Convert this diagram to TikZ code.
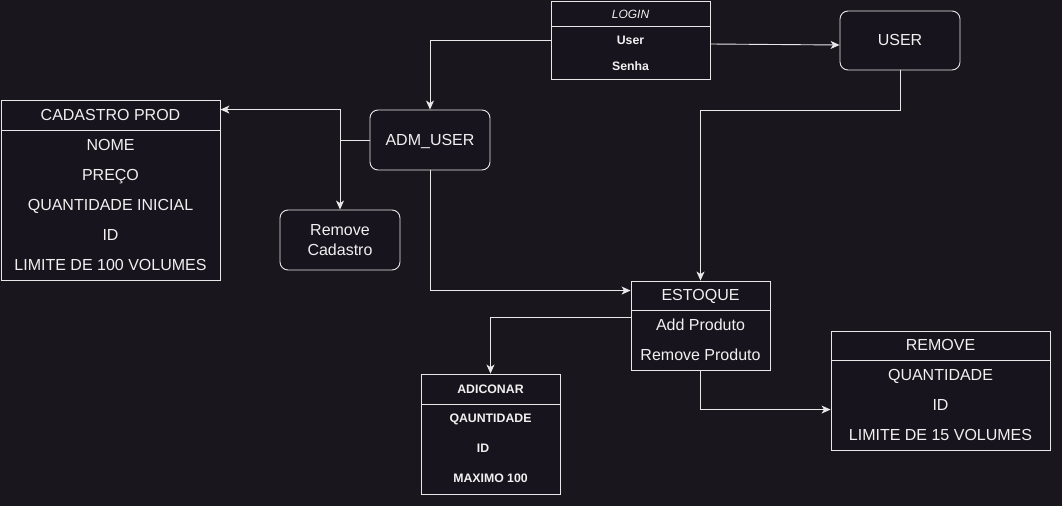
\documentclass[tikz,border=0pt]{standalone}
\usepackage{fontspec}
\setmainfont{Liberation Sans}
\usetikzlibrary{arrows.meta,calc}
\definecolor{bg}{RGB}{25,22,30}
\definecolor{boxfill}{RGB}{24,20,29}
\definecolor{fg}{RGB}{240,240,240}
\definecolor{ln}{RGB}{232,232,232}
\begin{document}
\begin{tikzpicture}[x=1pt,y=-1pt,
  box/.style={draw=ln, fill=boxfill, line width=0.9pt, inner sep=0pt},
  rbox/.style={box, rounded corners=8pt},
  txt/.style={text=fg, inner sep=0pt, yshift=-2pt, text height=1.5ex, text depth=0.25ex, font=\fontsize{16}{19}\selectfont},
  stxt/.style={text=fg, inner sep=0pt, yshift=-1.5pt, text height=1.5ex, text depth=0.25ex, font=\fontsize{12.3}{14}\selectfont\bfseries},
  sep/.style={draw=ln, line width=0.9pt},
  conn/.style={draw=ln, line width=0.9pt, -{Stealth[length=9pt,width=8pt,inset=2.5pt]}}]

\fill[bg] (0,0) rectangle (1062,506);
\useasboundingbox (0,0) rectangle (1062,506);

% LOGIN table
\node[box, minimum width=159pt, minimum height=78pt] (login) at (630.5,40) {};
\draw[sep] (551,26) -- (710,26);
\node[text=fg, inner sep=0pt, yshift=-1.5pt, text height=1.5ex, text depth=0.25ex, font=\fontsize{12}{14}\selectfont\itshape] (loginT) at (630.5,14) {LOGIN};
\node[stxt] (loginU) at (630.5,40) {User};
\node[stxt] (loginS) at (630.5,66) {Senha};

% USER
\node[rbox, minimum width=120pt, minimum height=59pt] (user) at (900,40.5) {};
\node[txt] (userT) at (900,40.5) {USER};

% CADASTRO PROD
\node[box, minimum width=219pt, minimum height=180pt] (cad) at (110.5,190) {};
\draw[sep] (1,130) -- (220,130);
\node[txt] (cadT) at (110.5,115) {CADASTRO PROD};
\node[txt] (cad1) at (110.5,145) {NOME};
\node[txt] (cad2) at (110.5,175) {PREÇO};
\node[txt] (cad3) at (110.5,205) {QUANTIDADE INICIAL};
\node[txt] (cad4) at (110.5,235) {ID};
\node[txt] (cad5) at (110.5,265) {LIMITE DE 100 VOLUMES};

% ADM_USER
\node[rbox, minimum width=120pt, minimum height=60pt] (adm) at (430,140) {};
\node[txt] (admT) at (430,140) {ADM\_USER};

% Remove Cadastro
\node[rbox, minimum width=120pt, minimum height=60pt] (rem) at (340,240) {};
\node[txt] (remT1) at (340,230) {Remove};
\node[txt] (remT2) at (340,250) {Cadastro};

% ESTOQUE
\node[box, minimum width=139pt, minimum height=89pt] (est) at (700.5,325.5) {};
\draw[sep] (631,310) -- (770,310);
\node[txt] (estT) at (700.5,295) {ESTOQUE};
\node[txt] (est1) at (700.5,325) {Add Produto};
\node[txt] (est2) at (700.5,355) {Remove Produto};

% ADICONAR
\node[box, minimum width=139pt, minimum height=120pt] (adi) at (490.5,434) {};
\draw[sep] (421,404) -- (560,404);
\node[stxt] (adiT) at (490.5,389) {ADICONAR};
\node[stxt] (adi1) at (490.5,418) {QAUNTIDADE};
\node[stxt] (adi2) at (483,448) {ID};
\node[stxt] (adi3) at (490.5,478) {MAXIMO 100};

% REMOVE
\node[box, minimum width=219pt, minimum height=119pt] (remv) at (940.5,390.5) {};
\draw[sep] (831,360) -- (1050,360);
\node[txt] (remvT) at (940.5,345) {REMOVE};
\node[txt] (remv1) at (940.5,375) {QUANTIDADE};
\node[txt] (remv2) at (940.5,405) {ID};
\node[txt] (remv3) at (940.5,435) {LIMITE DE 15 VOLUMES};

% connectors
\draw[conn] (login.west) -| (adm.north);
\draw[conn] ([yshift=-4pt]login.east) -- ([yshift=-4.5pt]user.west);
\coordinate (uturn) at (900,110);
\draw[conn] (user.south) -- (uturn) -| (est.north);
\coordinate (j) at (340,140);
\draw[conn] (adm.west) -- (j) |- ([yshift=-10pt]cad.north east);
\draw[conn] (adm.west) -- (j) -- (rem.north);
\draw[conn] (adm.south) |- ([yshift=-10pt]est.north west);
\draw[conn] ([yshift=-37pt]est.north west) -| (adi.north);
\draw[conn] (est.south) |- ([yshift=-79pt]remv.north west);
\end{tikzpicture}
\end{document}
